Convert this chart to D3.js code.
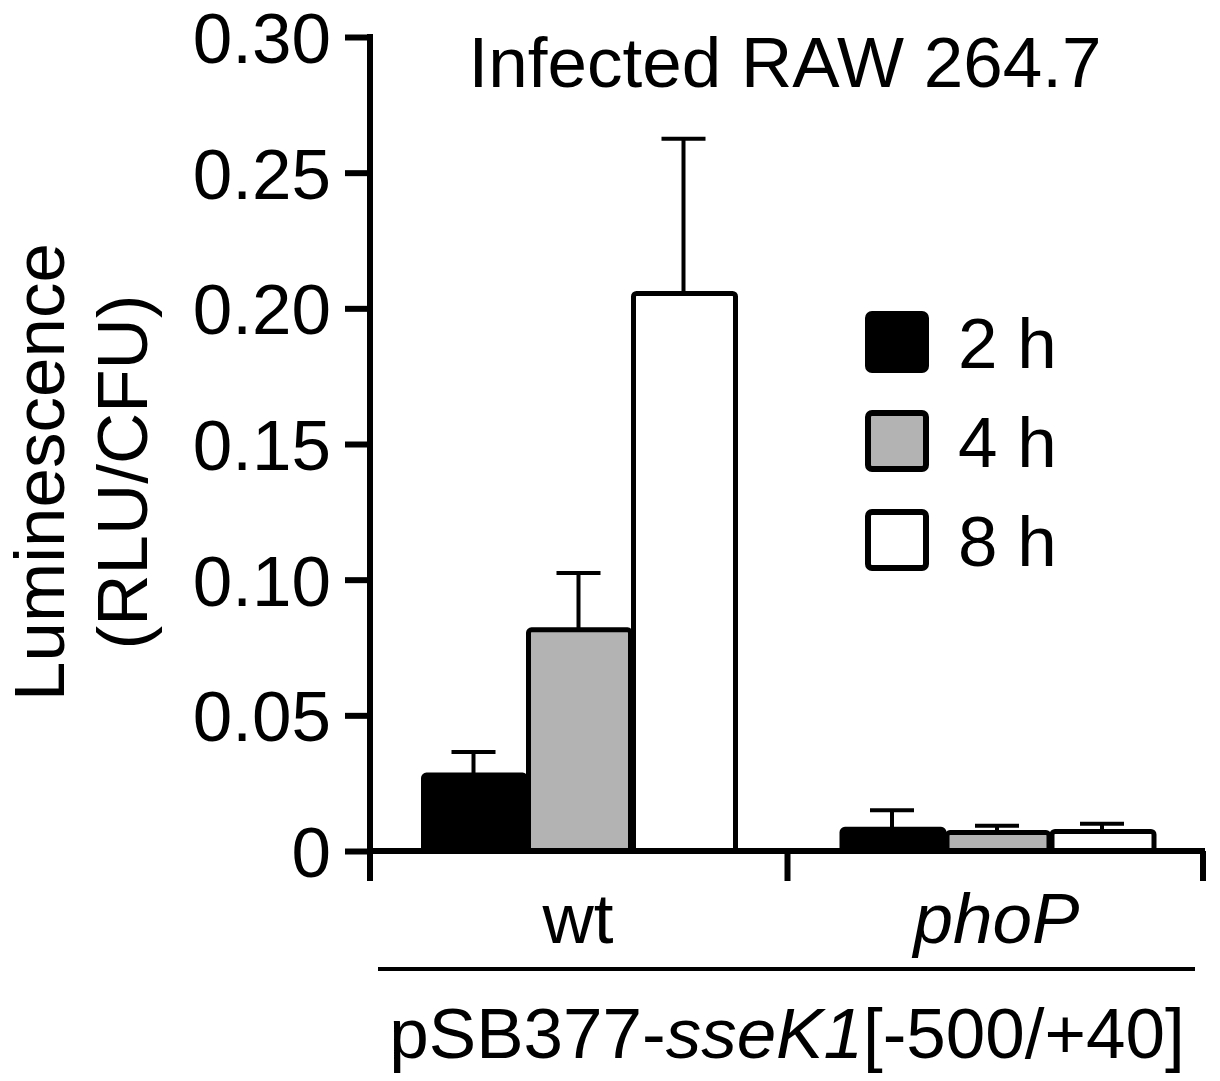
<!DOCTYPE html>
<html lang='en'>
<head>
<meta charset='UTF-8'>
<script src="https://cdnjs.cloudflare.com/ajax/libs/d3/7.8.5/d3.min.js"></script>
<style>
  body { margin: 0; background: #fff; }
  svg { display: block; font-family: 'Liberation Sans', Arial, sans-serif; }
  text { fill: #000; }
</style>
</head>
<body>
<svg id='chart'></svg>
<script>
'use strict'

const groups = ['wt', 'phoP']
const times = ['2 h', '4 h', '8 h']
const means = {
  'wt':   [0.028, 0.0815, 0.2055],
  'phoP': [0.008, 0.0068, 0.0072]
}
const errs = {
  'wt':   [0.0085, 0.021, 0.057],
  'phoP': [0.007, 0.0025, 0.0028]
}
const fills = ['#000000', '#b3b3b3', '#ffffff']
const yTicks = [0, 0.05, 0.10, 0.15, 0.20, 0.25, 0.30]

const W = 1220, H = 1081
const FS = 71
const svg = d3.select('#chart').attr('width', W).attr('height', H)

const plotLeft = 370, plotRight = 1205, plotTop = 37, plotBottom = 851

const y = d3.scaleLinear([0, 0.30], [plotBottom, plotTop])
const x0 = d3.scaleBand(groups, [plotLeft, plotRight]).paddingInner(0).paddingOuter(0)
const x1 = d3.scaleBand(times, [0, 315])
const groupOffset = [51, 52]

// bars
groups.forEach((g, gi) => {
  const gx = x0(g) + groupOffset[gi]
  const bar = svg.append('g').attr('transform', `translate(${gx},0)`)

  // error bars first, bars cover the stems
  bar.selectAll('.err')
    .data(times)
    .join('g')
    .attr('class', 'err')
    .each(function (t, i) {
      const cx = x1(t) + x1.bandwidth() / 2
      const v = means[g][i], e = errs[g][i]
      const sel = d3.select(this)
      sel.append('line')
        .attr('x1', cx).attr('x2', cx)
        .attr('y1', y(v)).attr('y2', y(v + e))
        .attr('stroke', '#000').attr('stroke-width', 4)
      sel.append('line')
        .attr('x1', cx - 22).attr('x2', cx + 22)
        .attr('y1', y(v + e)).attr('y2', y(v + e))
        .attr('stroke', '#000').attr('stroke-width', 4)
    })

  bar.selectAll('rect')
    .data(times)
    .join('rect')
    .attr('x', t => x1(t) + 2.5)
    .attr('width', x1.bandwidth() - 3)
    .attr('y', (t, i) => y(means[g][i]))
    .attr('height', (t, i) => plotBottom - y(means[g][i]))
    .attr('rx', 3)
    .attr('fill', (t, i) => fills[i])
    .attr('stroke', '#000')
    .attr('stroke-width', 5)
})

// y axis
const yAxis = svg.append('g')
  .attr('transform', `translate(${plotLeft},0)`)
  .call(d3.axisLeft(y).tickValues(yTicks).tickSize(25).tickPadding(14)
    .tickFormat(d => d === 0 ? '0' : d3.format('.2f')(d)))
yAxis.select('.domain').attr('stroke-width', 6).attr('d', `M0,${plotTop - 3}V${plotBottom}`)
yAxis.selectAll('.tick line').attr('stroke-width', 6)
yAxis.selectAll('.tick text')
  .attr('font-size', FS).attr('font-family', "'Liberation Sans', Arial, sans-serif")
  .attr('dy', '0.36em')

// x axis
const xAxis = svg.append('g')
  .attr('transform', `translate(0,${plotBottom})`)
xAxis.append('line')
  .attr('x1', plotLeft).attr('x2', plotRight)
  .attr('stroke', '#000').attr('stroke-width', 6)
xAxis.selectAll('.xt')
  .data([plotLeft, x0('phoP'), plotRight - 2])
  .join('line')
  .attr('x1', d => d).attr('x2', d => d)
  .attr('y1', 0).attr('y2', 30)
  .attr('stroke', '#000').attr('stroke-width', 6)

svg.selectAll('.glabel')
  .data(groups)
  .join('text')
  .attr('x', (g, i) => x0(g) + groupOffset[i] + 157)
  .attr('y', 943)
  .attr('text-anchor', 'middle')
  .attr('font-size', FS)
  .attr('font-style', (g, i) => i === 1 ? 'italic' : 'normal')
  .text(g => g)

svg.append('line')
  .attr('x1', 378).attr('x2', 1195)
  .attr('y1', 969).attr('y2', 969)
  .attr('stroke', '#000').attr('stroke-width', 4)

const sub = svg.append('text')
  .attr('x', 787).attr('y', 1058)
  .attr('text-anchor', 'middle')
  .attr('font-size', FS)
sub.append('tspan').text('pSB377-')
sub.append('tspan').attr('font-style', 'italic').text('sseK1')
sub.append('tspan').text('[-500/+40]')

// title
svg.append('text')
  .attr('x', 785).attr('y', 87)
  .attr('text-anchor', 'middle')
  .attr('font-size', FS)
  .text('Infected RAW 264.7')

// y label
const yl = svg.append('text')
  .attr('transform', 'translate(64,472) rotate(-90)')
  .attr('text-anchor', 'middle')
  .attr('font-size', FS)
yl.append('tspan').attr('x', 0).attr('dy', 0).text('Luminescence')
yl.append('tspan').attr('x', 0).attr('dy', 83).text('(RLU/CFU)')

// legend
const legend = svg.append('g').attr('transform', 'translate(868,314)')
const lg = legend.selectAll('g')
  .data(times)
  .join('g')
  .attr('transform', (t, i) => `translate(0,${i * 99})`)
lg.append('rect')
  .attr('width', 58).attr('height', 56).attr('rx', 4)
  .attr('fill', (t, i) => fills[i])
  .attr('stroke', '#000').attr('stroke-width', 6)
lg.append('text')
  .attr('x', 90).attr('y', 28).attr('dy', '0.36em')
  .attr('font-size', FS)
  .text(t => t)
</script>
</body>
</html>
